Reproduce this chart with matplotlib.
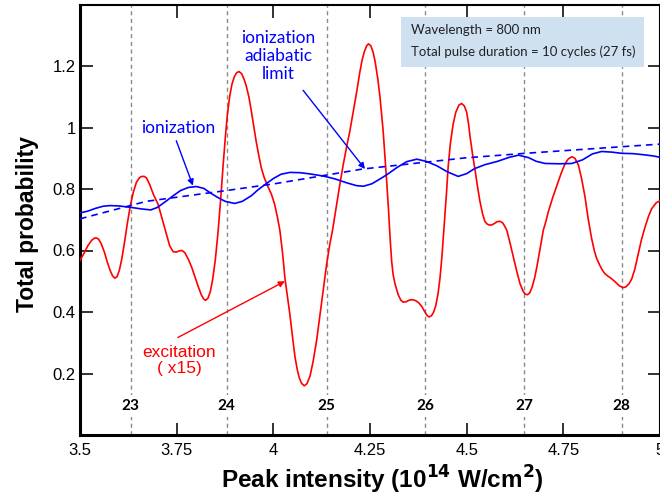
import numpy as np
import matplotlib
matplotlib.use("Agg")
import matplotlib.pyplot as plt
from matplotlib.patches import Rectangle

# -------------------------------
# Data
# -------------------------------
# excitation probability (x15), red curve
exc_x = [3.500, 3.510, 3.520, 3.530, 3.537, 3.542, 3.548, 3.555, 3.563, 3.570,
         3.577, 3.584, 3.590, 3.596, 3.602, 3.608, 3.615, 3.622, 3.630, 3.638,
         3.646, 3.654, 3.660, 3.666, 3.672, 3.680, 3.690, 3.702, 3.712, 3.723,
         3.732, 3.741, 3.750, 3.757, 3.764, 3.771, 3.780, 3.789, 3.797, 3.806,
         3.814, 3.820, 3.825, 3.831, 3.837, 3.843, 3.850, 3.857, 3.864, 3.870,
         3.876, 3.881, 3.887, 3.893, 3.899, 3.905, 3.911, 3.918, 3.924, 3.930,
         3.937, 3.943, 3.950, 3.956, 3.963, 3.969, 3.977, 3.986, 3.995, 4.003,
         4.010, 4.017, 4.024, 4.030, 4.037, 4.043, 4.050, 4.056, 4.062, 4.067,
         4.073, 4.080, 4.087, 4.095, 4.103, 4.112, 4.120, 4.128, 4.138, 4.146,
         4.153, 4.164, 4.172, 4.181, 4.190, 4.198, 4.207, 4.216, 4.223, 4.229,
         4.235, 4.241, 4.246, 4.252, 4.258, 4.263, 4.270, 4.276, 4.284, 4.293,
         4.298, 4.302, 4.306, 4.310, 4.315, 4.323, 4.330, 4.336, 4.343, 4.352,
         4.360, 4.368, 4.376, 4.384, 4.392, 4.398, 4.403, 4.409, 4.414, 4.420,
         4.426, 4.431, 4.436, 4.440, 4.444, 4.448, 4.452, 4.458, 4.465, 4.472,
         4.480, 4.487, 4.494, 4.500, 4.505, 4.509, 4.515, 4.522, 4.528, 4.534,
         4.541, 4.547, 4.552, 4.558, 4.565, 4.572, 4.579, 4.586, 4.593, 4.598,
         4.604, 4.612, 4.621, 4.630, 4.638, 4.646, 4.652, 4.657, 4.663, 4.669,
         4.676, 4.682, 4.687, 4.693, 4.698, 4.705, 4.711, 4.722, 4.733, 4.744,
         4.754, 4.763, 4.772, 4.780, 4.789, 4.797, 4.806, 4.814, 4.823, 4.830,
         4.836, 4.845, 4.852, 4.858, 4.866, 4.875, 4.885, 4.895, 4.905, 4.912,
         4.920, 4.927, 4.935, 4.944, 4.952, 4.961, 4.970, 4.978, 4.990, 5.000]
exc_y = [0.568, 0.590, 0.615, 0.633, 0.640, 0.641, 0.637, 0.622, 0.595, 0.565,
         0.538, 0.518, 0.510, 0.515, 0.537, 0.572, 0.625, 0.685, 0.745, 0.790,
         0.822, 0.837, 0.841, 0.841, 0.836, 0.815, 0.782, 0.750, 0.705, 0.655,
         0.615, 0.596, 0.595, 0.599, 0.600, 0.593, 0.572, 0.545, 0.515, 0.482,
         0.455, 0.442, 0.438, 0.445, 0.466, 0.505, 0.570, 0.660, 0.770, 0.875,
         0.970, 1.040, 1.100, 1.141, 1.165, 1.178, 1.182, 1.175, 1.158, 1.135,
         1.098, 1.054, 1.000, 0.952, 0.905, 0.868, 0.835, 0.808, 0.783, 0.752,
         0.712, 0.665, 0.590, 0.510, 0.445, 0.390, 0.315, 0.254, 0.212, 0.186,
         0.168, 0.160, 0.167, 0.192, 0.240, 0.308, 0.385, 0.460, 0.557, 0.620,
         0.665, 0.752, 0.815, 0.881, 0.940, 0.989, 1.055, 1.119, 1.175, 1.216,
         1.245, 1.265, 1.272, 1.266, 1.245, 1.216, 1.160, 1.097, 0.989, 0.827,
         0.730, 0.640, 0.565, 0.520, 0.490, 0.456, 0.438, 0.432, 0.433, 0.439,
         0.440, 0.437, 0.430, 0.418, 0.400, 0.388, 0.384, 0.388, 0.398, 0.420,
         0.460, 0.510, 0.580, 0.650, 0.715, 0.790, 0.870, 0.950, 1.011, 1.050,
         1.073, 1.078, 1.070, 1.050, 1.010, 0.968, 0.915, 0.859, 0.808, 0.762,
         0.720, 0.695, 0.687, 0.683, 0.683, 0.688, 0.694, 0.695, 0.690, 0.680,
         0.665, 0.625, 0.578, 0.530, 0.492, 0.467, 0.458, 0.456, 0.462, 0.480,
         0.512, 0.550, 0.585, 0.628, 0.665, 0.695, 0.725, 0.770, 0.810, 0.850,
         0.881, 0.898, 0.905, 0.900, 0.878, 0.835, 0.775, 0.705, 0.640, 0.600,
         0.575, 0.550, 0.534, 0.524, 0.516, 0.508, 0.497, 0.485, 0.479, 0.482,
         0.492, 0.508, 0.540, 0.590, 0.635, 0.675, 0.710, 0.735, 0.755, 0.762]

# ionization probability, blue solid
ion_x = [3.500, 3.520, 3.540, 3.560, 3.577, 3.600, 3.633, 3.660, 3.683, 3.700,
         3.720, 3.741, 3.760, 3.780, 3.801, 3.820, 3.840, 3.857, 3.875, 3.900,
         3.920, 3.943, 3.960, 3.978, 4.000, 4.020, 4.043, 4.070, 4.095, 4.130,
         4.159, 4.190, 4.215, 4.233, 4.255, 4.275, 4.293, 4.320, 4.345, 4.371,
         4.395, 4.422, 4.450, 4.478, 4.500, 4.520, 4.547, 4.580, 4.610, 4.634,
         4.660, 4.680, 4.703, 4.740, 4.772, 4.800, 4.825, 4.849, 4.875, 4.901,
         4.930, 4.961, 4.985, 5.000]
ion_y = [0.722, 0.728, 0.737, 0.744, 0.746, 0.745, 0.740, 0.735, 0.732, 0.740,
         0.758, 0.778, 0.795, 0.805, 0.808, 0.802, 0.785, 0.772, 0.760, 0.753,
         0.760, 0.778, 0.797, 0.814, 0.834, 0.848, 0.854, 0.853, 0.849, 0.842,
         0.833, 0.820, 0.811, 0.809, 0.817, 0.832, 0.846, 0.870, 0.889, 0.897,
         0.890, 0.876, 0.856, 0.841, 0.850, 0.866, 0.879, 0.890, 0.903, 0.910,
         0.902, 0.890, 0.883, 0.882, 0.883, 0.895, 0.914, 0.922, 0.920, 0.916,
         0.915, 0.911, 0.907, 0.903]

# ionization adiabatic limit, blue dashed
adi_x = [3.500, 3.672, 3.879, 4.008, 4.231, 4.495, 4.651, 5.000]
adi_y = [0.703, 0.760, 0.795, 0.818, 0.865, 0.901, 0.916, 0.946]

# channel closings (photon number)
chan_x = [3.631, 3.879, 4.138, 4.392, 4.649, 4.901]
chan_n = ["23", "24", "25", "26", "27", "28"]

xticks = [3.5, 3.75, 4, 4.25, 4.5, 4.75, 5]
xtick_labels = ["3.5", "3.75", "4", "4.25", "4.5", "4.75", "5"]
yticks = [0.2, 0.4, 0.6, 0.8, 1.0, 1.2]
ytick_labels = ["0.2", "0.4", "0.6", "0.8", "1", "1.2"]

# -------------------------------
# Plot
# -------------------------------
plt.rcParams['font.family'] = ['Liberation Sans', 'DejaVu Sans']
fig = plt.figure(figsize=(6.6, 4.95), dpi=100)
ax = fig.add_axes([80 / 660, 60 / 495, 580 / 660, 430.5 / 495])

for cx in chan_x:
    ax.axvline(cx, color='#8a8a8a', lw=1.0, ls=(0, (3, 2.5)), zorder=1)
for cx, n in zip(chan_x, chan_n):
    ax.text(cx, 0.094, n, ha='center', va='center', fontsize=11,
            fontweight='bold', family='Lato', zorder=2,
            bbox=dict(boxstyle='square,pad=0.25', fc='white', ec='none'))

ax.plot(exc_x, exc_y, color='#ff0000', lw=1.2, zorder=3)
ax.plot(adi_x, adi_y, color='#0000ff', lw=1.2, ls=(0, (4, 3)), zorder=4)
ax.plot(ion_x, ion_y, color='#0000ff', lw=1.2, zorder=4)

# annotation texts
ax.text(3.753, 0.999, "ionization", ha='center', va='center',
        color='#0000ff', fontsize=12.5, family='Lato')
ax.text(4.012, 1.233, "ionization\nadiabatic\nlimit", ha='center', va='center',
        color='#0000ff', fontsize=12.5, family='Lato', linespacing=1.15)
ax.text(3.756, 0.243, "excitation\n( x15)", ha='center', va='center',
        color='#ff0000', fontsize=12.5, linespacing=1.1)

# annotation arrows
arrows = [((3.749, 0.957), (3.792, 0.811), '#0000ff'),
          ((4.077, 1.121), (4.237, 0.865), '#0000ff'),
          ((3.753, 0.317), (4.030, 0.500), '#ff0000')]
for tail, head, c in arrows:
    ax.annotate("", xy=head, xytext=tail,
                arrowprops=dict(arrowstyle='-|>', color=c, lw=1,
                                mutation_scale=9, shrinkA=0, shrinkB=0))

# info box
ax.add_patch(Rectangle((0.553, 0.855), 0.419, 0.116, transform=ax.transAxes,
                       fc='#cfe0f1', ec='none', zorder=5))
ax.text(0.571, 0.941, "Wavelength = 800 nm", transform=ax.transAxes,
        ha='left', va='center', fontsize=9.5, family='Lato', color='#222222', zorder=6)
ax.text(0.571, 0.890, "Total pulse duration = 10 cycles (27 fs)", transform=ax.transAxes,
        ha='left', va='center', fontsize=9.5, family='Lato', color='#222222', zorder=6)

ax.set_xlim(3.5, 5.0)
ax.set_ylim(0, 1.4)
ax.set_xticks(xticks)
ax.set_xticklabels(xtick_labels)
ax.set_yticks(yticks)
ax.set_yticklabels(ytick_labels)
ax.tick_params(direction='in', length=9, width=1.3, labelsize=12,
               top=True, right=True, color='#222222')
ax.tick_params(axis='x', pad=6)
ax.tick_params(axis='y', pad=3)
for s in ['left', 'bottom']:
    ax.spines[s].set_linewidth(2.2)
for s in ['top', 'right']:
    ax.spines[s].set_linewidth(1.5)

ax.set_xlabel("Peak intensity (10$^{\\mathbf{14}}$ W/cm$^{\\mathbf{2}}$)",
              fontsize=17.5, fontweight='bold', va='center')
ax.xaxis.set_label_coords(0.521, -0.105)
ax.set_ylabel("Total probability", fontsize=16.5, fontweight='bold', va='center')
ax.yaxis.set_label_coords(-0.091, 0.49)

plt.savefig("out.png", dpi=100)
